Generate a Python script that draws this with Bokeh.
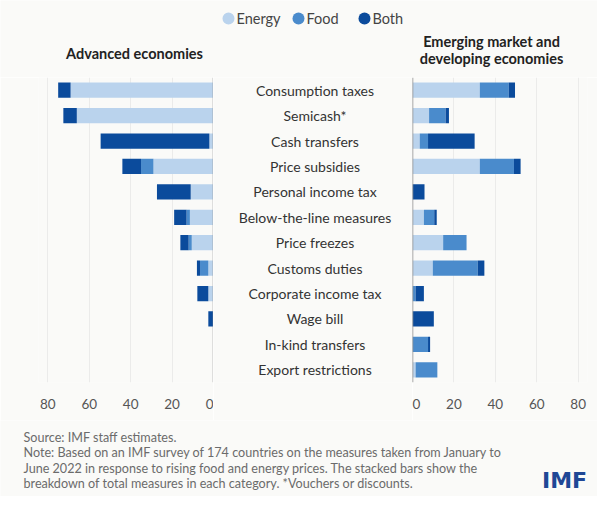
from bokeh.plotting import figure
from bokeh.models import ColumnDataSource, FactorRange, Range1d, FixedTicker, Span
from bokeh.layouts import column, row
from bokeh.core.properties import value
from bokeh.embed import file_html
from bokeh.resources import INLINE

# ---------------- data ----------------
categories = ["Consumption taxes", "Semicash*", "Cash transfers", "Price subsidies",
              "Personal income tax", "Below-the-line measures", "Price freezes",
              "Customs duties", "Corporate income tax", "Wage bill",
              "In-kind transfers", "Export restrictions"]
series = ["Energy", "Food", "Both"]
adv_energy = [69, 66, 2, 29, 11, 11.4, 10.5, 2.5, 2.5, 0, 0, 0]
adv_food = [0, 0, 0, 6, 0, 1.6, 1.5, 4, 0, 0, 0, 0]
adv_both = [6, 6.5, 52.5, 9, 16.3, 6, 4, 1.5, 5.3, 2.5, 0, 0]
emde_energy = [32.5, 8, 3.5, 32.5, 0, 5.5, 14.8, 9.8, 0, 0, 0, 1.5]
emde_food = [14, 8, 4, 16.5, 0, 5, 11.3, 21.7, 1.5, 0, 7.5, 10.5]
emde_both = [3, 1.6, 22.5, 3.2, 5.8, 1.2, 0, 3.2, 4, 10.3, 1, 0]
ticks = [0, 20, 40, 60, 80]
left_title = "Advanced economies"
right_title = ["Emerging market and", "developing economies"]
footer_lines = [
    "Source: IMF staff estimates.",
    "Note: Based on an IMF survey of 174 countries on the measures taken from January to",
    "June 2022 in response to rising food and energy prices. The stacked bars show the",
    "breakdown of total measures in each category. *Vouchers or discounts.",
]

colors = ["#bad3ed", "#4a8bcc", "#0b4b9c"]
BG = "#fafaf8"
FONT = "Lato"

yr = FactorRange(factors=list(reversed(categories)), range_padding=0)

adv_src = ColumnDataSource(dict(cat=categories, Energy=adv_energy, Food=adv_food, Both=adv_both))
emde_src = ColumnDataSource(dict(cat=categories, Energy=emde_energy, Food=emde_food, Both=emde_both))


def base(width, height, xr, yrange, **kw):
    p = figure(width=width, height=height, x_range=xr, y_range=yrange,
               output_backend="svg", toolbar_location=None, **kw)
    p.background_fill_color = BG
    p.border_fill_color = BG
    p.outline_line_color = None
    return p


def panel(xr, src, width, mb_left, mb_right):
    p = base(width, 343, xr, yr, y_axis_location=None,
             min_border_left=mb_left, min_border_right=mb_right,
             min_border_top=0, min_border_bottom=38)
    p.hbar_stack(series, y="cat", height=0.6, color=colors, line_color=None, source=src)
    p.xaxis.ticker = FixedTicker(ticks=ticks)
    p.xgrid.ticker = FixedTicker(ticks=ticks)
    p.xgrid.grid_line_color = "#ebebea"
    p.ygrid.grid_line_color = None
    p.xaxis.axis_line_color = None
    p.xaxis.major_tick_line_color = None
    p.xaxis.minor_tick_line_color = None
    p.xaxis.major_label_standoff = 10
    p.xaxis.major_label_text_font = FONT
    p.xaxis.major_label_text_font_size = "13.5px"
    p.xaxis.major_label_text_color = "#555555"
    p.add_layout(Span(location=0, dimension="height", line_color="#8c8c8c", line_width=1.5))
    return p


left = panel(Range1d(84.5, 0), adv_src, 213, 38, 0)
right = panel(Range1d(0, 84.5), emde_src, 185, 0, 10)

mid = base(199, 343, Range1d(-1, 1), yr, x_axis_location=None, y_axis_location=None,
           min_border_left=0, min_border_right=0, min_border_top=0, min_border_bottom=38)
mid.grid.grid_line_color = None
mid.text(x=0.02, y="cat", text="cat", source=ColumnDataSource(dict(cat=categories)),
         text_align="center", text_baseline="middle", text_font=value(FONT),
         text_font_size="14px", text_color="#333333")

# header (coordinates in pixels of the picture)
hdr = base(597, 77, Range1d(0, 597), Range1d(77, 0),
           x_axis_location=None, y_axis_location=None, min_border=0)
hdr.grid.grid_line_color = None
hdr.text(x=[134], y=[53], text=[left_title], text_align="center", text_baseline="middle",
         text_font=value(FONT), text_font_style="bold", text_font_size="14.5px",
         text_color="#222222")
hdr.text(x=[491, 491], y=[41, 58], text=right_title, text_align="center",
         text_baseline="middle", text_font=value(FONT), text_font_style="bold",
         text_font_size="14.5px", text_color="#222222")
leg_x = [228, 298, 364]
hdr.scatter(x=leg_x, y=[18, 18, 18], size=12, color=colors, line_color=None)
hdr.text(x=[x + 8 for x in leg_x], y=[18, 18, 18], text=series, text_align="left",
         text_baseline="middle", text_font=value(FONT), text_font_size="14.5px",
         text_color="#444444")

# footer
ftr = base(597, 76, Range1d(0, 597), Range1d(496, 420),
           x_axis_location=None, y_axis_location=None, min_border=0)
ftr.grid.grid_line_color = None
ftr.text(x=[23] * len(footer_lines), y=[437, 452, 467.5, 483], text=footer_lines,
         text_align="left", text_baseline="middle", text_font=value(FONT),
         text_font_size="12.6px", text_color="#6b6b6b")
ftr.text(x=[564], y=[480], text=["IMF"], text_align="center", text_baseline="middle",
         text_font=value("DejaVu Sans"), text_font_style="bold", text_font_size="22px",
         text_color="#1f4795")

layout = column(hdr, row(left, mid, right), ftr)
open("out.html", "w").write(file_html(layout, INLINE))
